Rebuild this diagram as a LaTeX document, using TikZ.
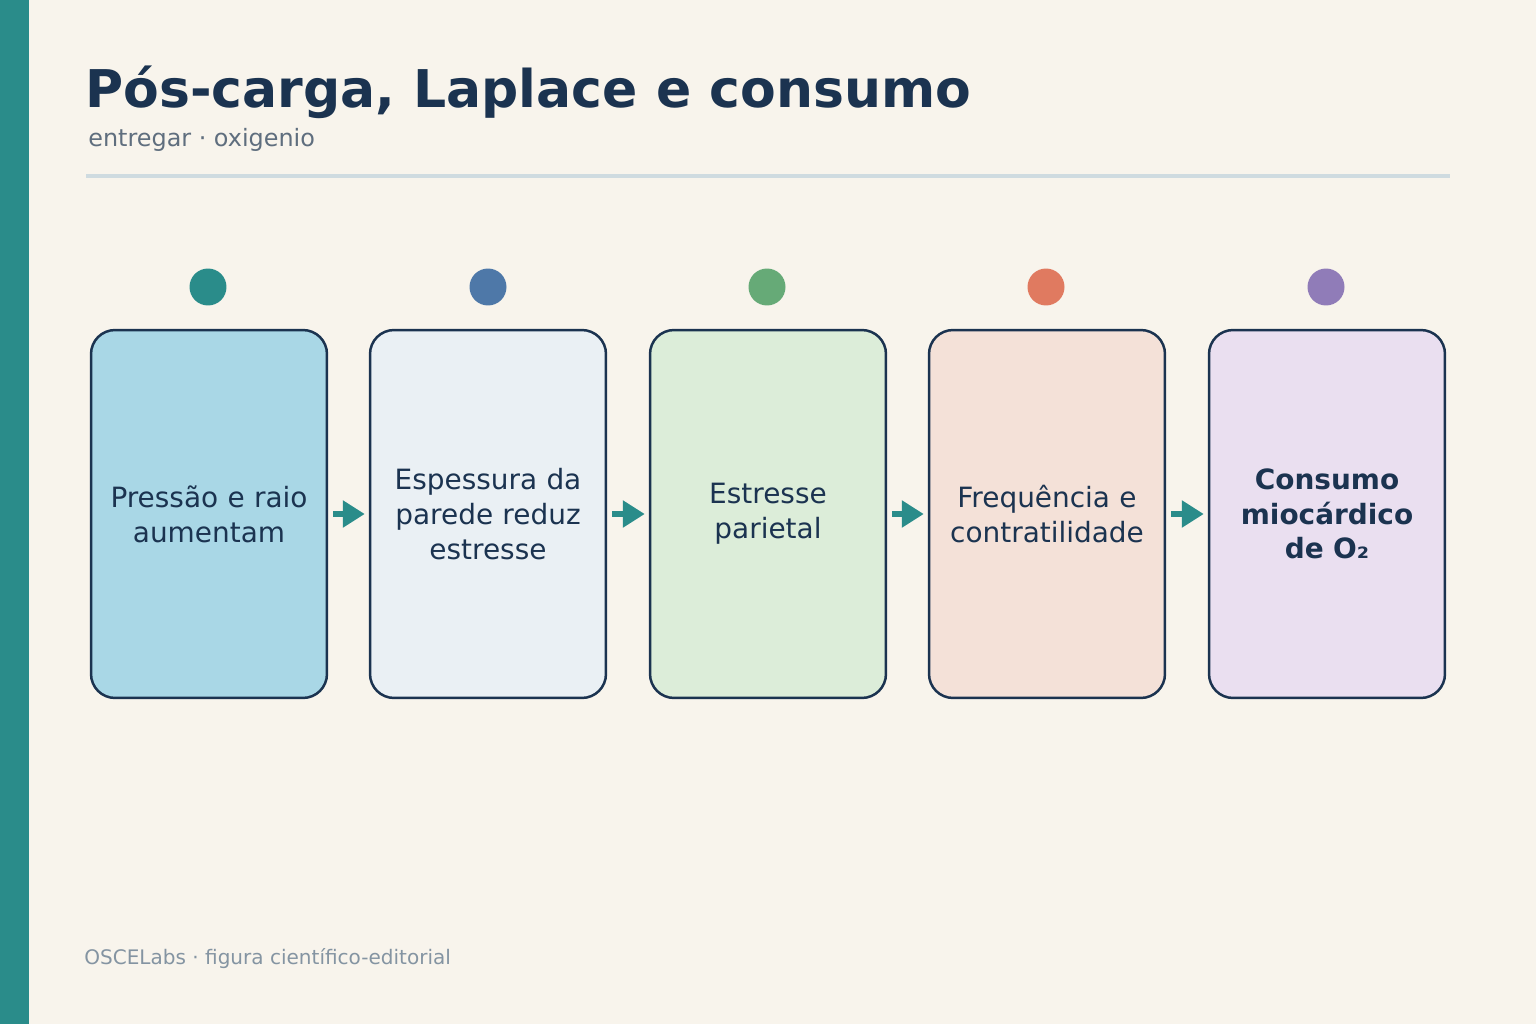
\documentclass[tikz,border=0pt]{standalone}
\usepackage{fontspec}
\setmainfont{DejaVu Sans}
\usetikzlibrary{arrows.meta}
\definecolor{paper}{HTML}{F8F4EC}
\definecolor{teal}{HTML}{2A8C8A}
\definecolor{navy}{HTML}{1B3350}
\definecolor{subgray}{HTML}{5F6E7E}
\definecolor{footgray}{HTML}{8494A2}
\definecolor{rulegray}{HTML}{CFDBE0}
\definecolor{fillA}{HTML}{A9D7E6}
\definecolor{fillB}{HTML}{EAF0F4}
\definecolor{fillC}{HTML}{DCEDD9}
\definecolor{fillD}{HTML}{F4E1D8}
\definecolor{fillE}{HTML}{EADFF0}
\definecolor{dotA}{HTML}{2A8C8A}
\definecolor{dotB}{HTML}{4E78A8}
\definecolor{dotC}{HTML}{66AA77}
\definecolor{dotD}{HTML}{E07A60}
\definecolor{dotE}{HTML}{907CB8}
\begin{document}
\begin{tikzpicture}[x=0.02cm, y=-0.02cm]
      \tikzset{
	  stage/.style={rectangle, rounded corners=0.48cm, draw=navy, line width=0.05cm, minimum width=4.72cm, minimum height=7.36cm, inner sep=0pt, text width=4.5cm, align=center, text=navy, font=\fontsize{15.9}{19.8}\selectfont},
	  dot/.style={circle, fill=#1, minimum size=0.74cm, inner sep=0pt},
	  flowarrow/.style={teal, line width=0.11cm, shorten <=0.1cm, shorten >=0.08cm, -{Triangle[length=0.44cm, width=0.52cm]}},
	  caption/.style={anchor=base west, inner sep=0pt}
      }

      % background, side bar and header
      \fill[paper] (0,0) rectangle (1536,1024);
      \fill[teal] (0,0) rectangle (29,1024);
      \node[caption, text=navy, font=\fontsize{29.6}{34}\selectfont\bfseries] (title) at (85,108) {Pós-carga, Laplace e consumo};
      \node[caption, text=subgray, font=\fontsize{13.6}{16}\selectfont] (subtitle) at (88,147) {entregar · oxigenio};
      \coordinate (ruleL) at (86,176);
      \coordinate (ruleR) at (1450,176);
      \draw[rulegray, line width=0.07cm] (ruleL) -- (ruleR);

      % stages
      \node[stage, fill=fillA] (pressao) at (209,514) {Pressão e raio\\aumentam};
      \node[stage, fill=fillB] (espessura) at (488,514) {Espessura da\\parede reduz\\estresse};
      \node[stage, fill=fillC] (estresse) at (768,514) {\strut Estresse\\parietal\strut};
      \node[stage, fill=fillD] (frequencia) at (1047,514) {Frequência e\\contratilidade};
      \node[stage, fill=fillE, font=\fontsize{15.9}{19.8}\selectfont\bfseries] (consumo) at (1327,514) {Consumo\\miocárdico\\de O₂};

      \node[dot=dotA] (dotpressao) at (208,287) {};
      \node[dot=dotB] (dotespessura) at (488,287) {};
      \node[dot=dotC] (dotestresse) at (767,287) {};
      \node[dot=dotD] (dotfrequencia) at (1046,287) {};
      \node[dot=dotE] (dotconsumo) at (1326,287) {};

      \draw[flowarrow] (pressao) -- (espessura);
      \draw[flowarrow] (espessura) -- (estresse);
      \draw[flowarrow] (estresse) -- (frequencia);
      \draw[flowarrow] (frequencia) -- (consumo);

      \node[caption, text=footgray, font=\fontsize{11.4}{14}\selectfont] (footer) at (84,964) {OSCELabs · figura científico-editorial};
\end{tikzpicture}
\end{document}
